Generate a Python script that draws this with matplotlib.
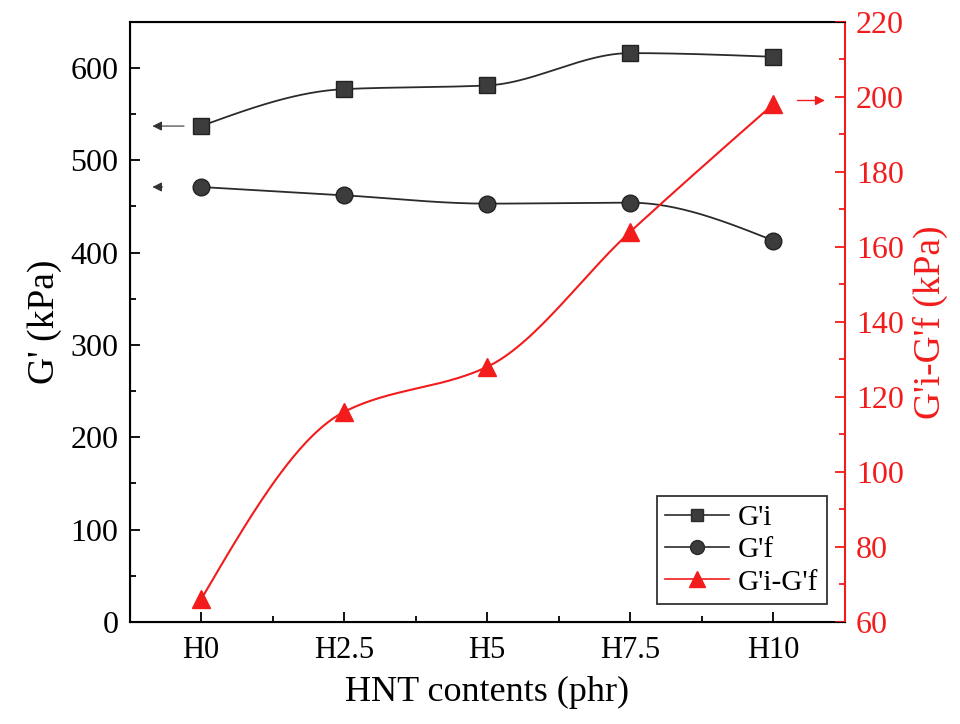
import numpy as np
import matplotlib.pyplot as plt
from matplotlib.lines import Line2D

plt.rcParams['font.family'] = ['Liberation Serif', 'DejaVu Serif']

categories = ['H0', 'H2.5', 'H5', 'H7.5', 'H10']
g_i = [537, 577, 581, 616, 612]
g_f = [471, 462, 453, 454, 413]
g_diff = [66, 116, 128, 164, 198]

red = '#f21c1c'


def smooth(y, n=200):
    # monotone cubic (PCHIP) curve through the points, for drawing only
    y = np.asarray(y, dtype=float)
    m = len(y)
    d = np.diff(y)
    s = np.zeros(m)
    s[0], s[-1] = d[0], d[-1]
    for i in range(1, m - 1):
        if d[i - 1] * d[i] > 0:
            s[i] = 2 / (1 / d[i - 1] + 1 / d[i])
    # end slopes (three-point)
    s[0] = (3 * d[0] - s[1]) / 2 if d[0] * (3 * d[0] - s[1]) > 0 else 0
    s[-1] = (3 * d[-1] - s[-2]) / 2 if d[-1] * (3 * d[-1] - s[-2]) > 0 else 0
    xs = np.linspace(0, m - 1, n)
    ys = np.empty_like(xs)
    for k, t in enumerate(xs):
        i = min(int(t), m - 2)
        u = t - i
        h00 = 2 * u ** 3 - 3 * u ** 2 + 1
        h10 = u ** 3 - 2 * u ** 2 + u
        h01 = -2 * u ** 3 + 3 * u ** 2
        h11 = u ** 3 - u ** 2
        ys[k] = h00 * y[i] + h10 * s[i] + h01 * y[i + 1] + h11 * s[i + 1]
    return xs, ys


fig = plt.figure(figsize=(9.6, 7.24), dpi=100)
ax = fig.add_axes([0.135, 0.141, 0.745, 0.829])
ax2 = ax.twinx()

x = np.arange(len(categories))
ax.plot(*smooth(g_i), color='#2b2b2b', lw=1.3)
ax.plot(x, g_i, ls='none', marker='s', ms=11, color='#3c3c3c', mec='#222222')
ax.plot(*smooth(g_f), color='#2b2b2b', lw=1.3)
ax.plot(x, g_f, ls='none', marker='o', ms=12, color='#3c3c3c', mec='#222222')
ax2.plot(*smooth(g_diff), color=red, lw=1.5)
ax2.plot(x, g_diff, ls='none', marker='^', ms=13, color=red)

# axis arrows
ax.annotate('', xy=(-0.36, g_i[0]), xytext=(-0.1, g_i[0]),
            arrowprops=dict(arrowstyle='-|>', color='#333333', lw=0.8, mutation_scale=14))
ax.annotate('', xy=(-0.36, g_f[0]), xytext=(-0.25, g_f[0]),
            arrowprops=dict(arrowstyle='-|>', color='#333333', lw=0.8, mutation_scale=14))
ax2.annotate('', xy=(4.38, g_diff[-1] + 1), xytext=(4.15, g_diff[-1] + 1),
             arrowprops=dict(arrowstyle='-|>', color=red, lw=1.0, mutation_scale=14))

ax.set_xlim(-0.5, 4.5)
ax.set_ylim(0, 650)
ax2.set_ylim(60, 220)
ax.set_xticks(x)
ax.set_xticklabels(categories)
ax.set_xticks(np.arange(-0.5, 4.6, 0.5), minor=True)
ax.set_yticks(np.arange(0, 601, 100))
ax.set_yticks(np.arange(0, 651, 50), minor=True)
ax2.set_yticks(np.arange(60, 221, 20))
ax2.set_yticks(np.arange(60, 221, 10), minor=True)

ax.tick_params(axis='both', which='both', direction='in', width=1.3)
ax.tick_params(axis='x', labelsize=22, pad=10)
ax.tick_params(axis='y', labelsize=23, pad=8)
ax.tick_params(which='major', length=7)
ax.tick_params(which='minor', length=4)
ax2.tick_params(axis='y', which='both', direction='in', labelsize=23, colors=red, width=1.3, pad=8)
ax2.tick_params(which='major', length=7)
ax2.tick_params(which='minor', length=4)
ax2.spines['right'].set_color(red)
ax2.spines['right'].set_linewidth(1.5)
for s in ['left', 'bottom', 'top']:
    ax.spines[s].set_linewidth(1.5)
ax.spines['right'].set_visible(False)

ax.set_xlabel('HNT contents (phr)', fontsize=26, labelpad=8)
ax.set_ylabel("G' (kPa)", fontsize=27, labelpad=6)
ax2.set_ylabel("G'i-G'f (kPa)", fontsize=27, color=red, labelpad=6)

handles = [
    Line2D([], [], color='#2b2b2b', marker='s', ms=9, mfc='#3c3c3c', lw=1.2),
    Line2D([], [], color='#2b2b2b', marker='o', ms=10, mfc='#3c3c3c', lw=1.2),
    Line2D([], [], color=red, marker='^', ms=11, lw=1.2),
]
leg = ax.legend(handles, ["G'i", "G'f", "G'i-G'f"], loc='lower right', fontsize=21,
                frameon=True, fancybox=False, edgecolor='black', handlelength=2.2,
                borderaxespad=0.6, labelspacing=0.2, handletextpad=0.3, borderpad=0.3)
leg.get_frame().set_linewidth(1.3)
leg.set_zorder(5)

fig.savefig('out.png', dpi=100)
